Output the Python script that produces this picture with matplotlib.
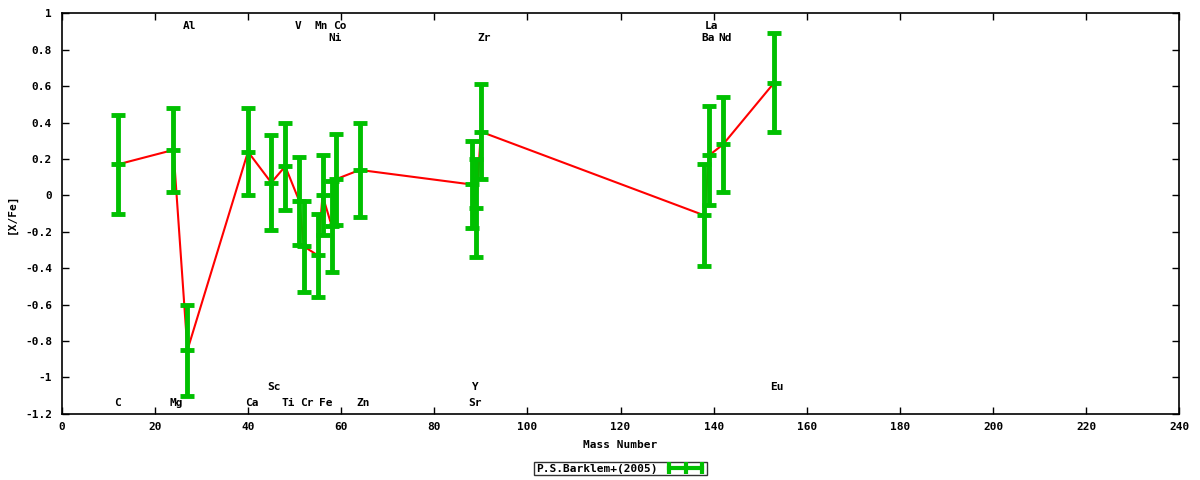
import matplotlib
matplotlib.use("Agg")
import matplotlib.pyplot as plt
from matplotlib.lines import Line2D
from matplotlib.ticker import FuncFormatter

# P.S.Barklem+(2005) abundances
mass = [12, 24, 27, 40, 45, 48, 51, 52, 55, 56, 58, 59, 64, 88, 89, 90, 138, 139, 142, 153]
xfe = [0.17, 0.25, -0.85, 0.24, 0.07, 0.16, -0.03, -0.28, -0.33, 0.00,
       -0.17, 0.09, 0.14, 0.06, -0.07, 0.35, -0.11, 0.22, 0.28, 0.62]
err = [0.27, 0.23, 0.25, 0.24, 0.26, 0.24, 0.24, 0.25, 0.23, 0.22,
       0.25, 0.25, 0.26, 0.24, 0.27, 0.26, 0.28, 0.27, 0.26, 0.27]

# element labels (name, x, y)
elem_names = ["Al", "V", "Mn", "Co", "La", "Ni", "Zr", "Ba", "Nd",
              "C", "Mg", "Ca", "Ti", "Cr", "Fe", "Zn", "Sr", "Eu", "Sc", "Y"]
elem_x = [27.5, 50.8, 55.7, 59.8, 139.6, 58.7, 90.6, 138.7, 142.5,
          12.0, 24.7, 40.8, 48.7, 52.7, 56.8, 64.7, 88.8, 153.5, 45.6, 88.8]
elem_y = [0.93, 0.93, 0.93, 0.93, 0.93, 0.864, 0.864, 0.864, 0.864,
          -1.141, -1.141, -1.141, -1.141, -1.141, -1.141, -1.141, -1.141, -1.053, -1.053, -1.053]

plt.rcParams['font.family'] = 'DejaVu Sans Mono'
plt.rcParams['font.weight'] = 'bold'
plt.rcParams['font.size'] = 8
plt.rcParams['axes.unicode_minus'] = False

fig = plt.figure(figsize=(12, 4.8), dpi=100)
ax = fig.add_axes([0.0514, 0.138, 0.9315, 0.834])

green = '#00c000'
ax.plot(mass, xfe, color='#ff0000', lw=1.5, zorder=2)
ax.errorbar(mass, xfe, yerr=err, fmt='_', color=green, ecolor=green,
            elinewidth=3.5, capsize=5, capthick=3.5, markersize=10, mew=3.5,
            zorder=3)

for name, x, y in zip(elem_names, elem_x, elem_y):
  ax.text(x, y, name, ha='center', va='center', fontsize=8, fontweight='bold')

ax.set_xlim(0, 240)
ax.set_ylim(-1.2, 1)
ax.set_xticks(range(0, 241, 20))
ax.set_yticks([i / 10 for i in range(-12, 11, 2)])
ax.yaxis.set_major_formatter(FuncFormatter(lambda v, p: '%g' % round(v, 2)))
ax.tick_params(direction='in', length=5, width=1, top=True, right=True,
               labelsize=8)
ax.tick_params(axis='x', pad=6)
ax.tick_params(axis='y', pad=7)
for s in ax.spines.values():
  s.set_linewidth(1.2)

ax.set_xlabel('Mass Number', fontsize=8, fontweight='bold', labelpad=6)
ax.set_ylabel('[X/Fe]', fontsize=8, fontweight='bold', labelpad=6)

handle = Line2D([], [], color=green, lw=3, marker='|', markersize=9, mew=3)
fig.legend([handle], ['P.S.Barklem+(2005)'], loc='center',
           bbox_to_anchor=(0.517, 0.0235), numpoints=3, markerfirst=False,
           frameon=True, fancybox=False, edgecolor='black', fontsize=8,
           borderpad=0.15, handlelength=3.5, handletextpad=0.8,
           borderaxespad=0)

fig.savefig('out.png', dpi=100)
